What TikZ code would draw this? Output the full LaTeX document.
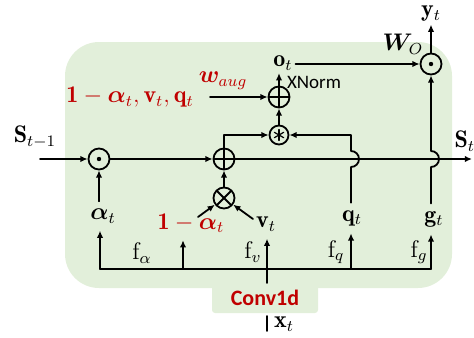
\documentclass[tikz,border=0pt]{standalone}
\usepackage{amsmath,bm}
\usepackage{fontspec}
\newfontfamily\calibri{Carlito}
\usetikzlibrary{arrows.meta}
\definecolor{leaf}{HTML}{E2EFDA}
\definecolor{crimson}{HTML}{C00000}

\tikzset{
  op/.style={circle,draw,minimum size=10.5pt,inner sep=0pt},
  dotop/.style={op,path picture={\fill (path picture bounding box.center) circle (1.1pt);}},
  plusop/.style={op,path picture={
    \draw (path picture bounding box.north)--(path picture bounding box.south)
          (path picture bounding box.west)--(path picture bounding box.east);}},
  timesop/.style={op,path picture={
    \draw (path picture bounding box.north west)--(path picture bounding box.south east)
          (path picture bounding box.north east)--(path picture bounding box.south west);}},
  astop/.style={op,minimum size=9.5pt,path picture={
    \foreach \a in {90,30,150}
      \draw[semithick] (path picture bounding box.center) ++(\a:2.7pt) -- ++(\a+180:5.4pt);}},
  redlbl/.style={text=crimson},
  sanslbl/.style={font=\calibri\fontsize{9.5}{10}\selectfont}
}

\begin{document}
\begin{tikzpicture}[x=.5pt,y=-.5pt,font=\large,>={Latex[length=3.6pt,width=3.2pt]},
  line cap=round,line join=round,line width=.9pt]
  \useasboundingbox (0,0) rectangle (474,337);

  % Green block with the Conv1d tab.
  \fill[leaf,rounded corners=17pt] (65,42) rectangle (452,288);
  \fill[leaf,rounded corners=1.5pt] (212,270) rectangle (318,313);

  % Operators.
  \node[dotop] (d1) at (99,159) {};
  \node[plusop] (a1) at (224,159) {};
  \node[timesop] (m1) at (224,198) {};
  \node[astop] (c1) at (279,135) {};
  \node[plusop] (a2) at (279,97) {};
  \node[dotop] (d2) at (431,64) {};

  % Labels.
  \node (sprev) at (35,137) {$\mathbf{S}_{t-1}$};
  \node[anchor=west] (snext) at (447,141) {$\mathbf{S}_t$};
  \node[redlbl] (mix) at (130,97) {$\mathbf{1}-\bm{\alpha}_t,\mathbf{v}_t,\mathbf{q}_t$};
  \node[redlbl] (waug) at (223,81) {$\bm{w}_{aug}$};
  \node[inner sep=1pt] (ot) at (283,63) {$\mathbf{o}_t$};
  \node[sanslbl] (xnorm) at (314,82) {XNorm};
  \node (wo) at (403,44) {$\bm{W}_O$};
  \node[inner sep=1pt] (yt) at (431,14) {$\mathbf{y}_t$};
  \node (alpha) at (103,216) {$\bm{\alpha}_t$};
  \node[redlbl] (onealpha) at (191,223) {$\mathbf{1}-\bm{\alpha}_t$};
  \node (vt) at (266,224) {$\mathbf{v}_t$};
  \node (qt) at (352,218) {$\mathbf{q}_t$};
  \node (gt) at (434,219) {$\mathbf{g}_t$};
  \node (fa) at (142,253) {$\mathrm{f}_\alpha$};
  \node (fv) at (253,252) {$\mathrm{f}_v$};
  \node (fq) at (336,252) {$\mathrm{f}_q$};
  \node (fg) at (419,252) {$\mathrm{f}_g$};
  \node[redlbl,inner sep=1pt,font=\calibri\bfseries\fontsize{11}{12}\selectfont] (conv) at (265,298) {Conv1d};
  \node[inner sep=1pt] (xt) at (284,324) {$\mathbf{x}_t$};

  % Free ends.
  \coordinate (sin) at (40,159);
  \coordinate (sout) at (472,159);
  \coordinate (wtail) at (210,97);
  \coordinate (otail) at (198,217);
  \coordinate (vtail) at (253,219);
  \coordinate (b1) at (100,269);
  \coordinate (b2) at (183,269);
  \coordinate (bq) at (351,269);
  \coordinate (b5) at (431,269);
  \coordinate (vin) at (267,283);
  \coordinate (xa) at (267,316);
  \coordinate (xb) at (267,331);

  % State line.
  \draw[->] (sin) -- (d1);
  \draw[->] (d1) -- (a1);
  \draw[->] (a1) -- (sout);
  \draw[->] (a1) |- (c1);
  \draw[->] (m1) -- (a1);
  \draw[->] (otail) -- (m1);
  \draw[->] (vtail) -- (m1);
  \draw[->] (alpha.north -| d1) -- (d1);

  % Output branch.
  \draw[->] (c1) -- (a2);
  \draw[->] (wtail) -- (a2);
  \draw[->] (a2) -- (a2 |- ot.south);
  \draw[->] (ot.east |- d2) -- (d2);
  \draw[->] (d2) -- (yt);

  % q and g hop over the state line.
  \draw[->] (qt.north -| bq) -- (351,167)
    arc[start angle=-90,end angle=90,radius=4pt] -- (351,135) -- (c1);
  \draw[->] (gt.north -| b5) -- (431,167)
    arc[start angle=-90,end angle=90,radius=4pt] -- (d2);

  % Projection bus.
  \draw (b1) -- (b5);
  \draw[->] (b1) -- (b1 |- alpha.south);
  \draw[->] (b2) -- (b2 |- onealpha.south);
  \draw[->] (vin) -- (vin |- vt.south);
  \draw[->] (bq) -- (bq |- qt.south);
  \draw[->] (b5) -- (b5 |- gt.south);
  \draw (xa) -- (xb);
\end{tikzpicture}
\end{document}
